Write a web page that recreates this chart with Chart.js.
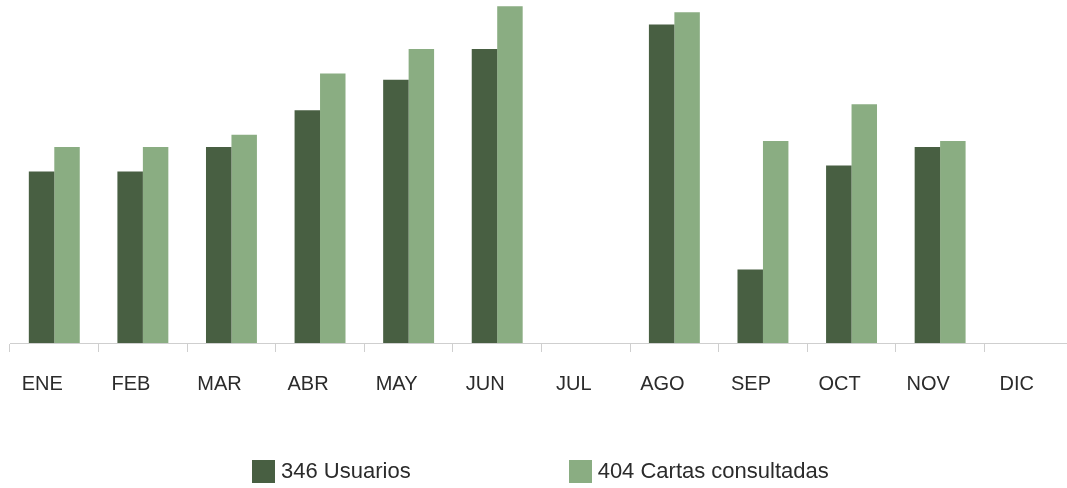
<!DOCTYPE html>
<html>
<head>
<meta charset="utf-8">
<script src="https://cdn.jsdelivr.net/npm/chart.js@4/dist/chart.umd.min.js"></script>
<style>
  html, body { margin: 0; padding: 0; background: #ffffff; overflow: hidden; }
  #wrap { position: relative; width: 1067px; height: 488px; overflow: hidden; background: #fff; }
  #c { position: absolute; left: 0; top: 0; }
  #legend { position: absolute; left: 252px; top: 458px; display: flex; gap: 158px; align-items: center;
            font-family: "Liberation Sans", Arial, sans-serif; font-size: 22px; color: #2b2b2b; }
  #legend .item { display: flex; align-items: center; white-space: nowrap; }
  #legend .box { width: 23px; height: 23px; margin-right: 6px; }
</style>
</head>
<body>
<div id="wrap">
  <canvas id="c" width="1074" height="488"></canvas>
  <div id="legend"></div>
</div>
<script>
const months = ['ENE','FEB','MAR','ABR','MAY','JUN','JUL','AGO','SEP','OCT','NOV','DIC'];
const usuarios = [28, 28, 32, 38, 43, 48, null, 52, 12, 29, 32, null];
const cartas   = [32, 32, 34, 44, 48, 55, null, 54, 33, 39, 33, null];
const seriesNames = ['346 Usuarios', '404 Cartas consultadas'];
const darkGreen = '#485f42';
const lightGreen = '#8aad82';

const htmlLegend = {
  id: 'htmlLegend',
  afterUpdate(chart) {
    const el = document.getElementById('legend');
    el.innerHTML = '';
    const items = Chart.defaults.plugins.legend.labels.generateLabels(chart);
    items.forEach(it => {
      const d = document.createElement('div');
      d.className = 'item';
      const b = document.createElement('span');
      b.className = 'box';
      b.style.background = it.fillStyle;
      const t = document.createElement('span');
      t.textContent = it.text;
      d.appendChild(b); d.appendChild(t);
      el.appendChild(d);
    });
  }
};

new Chart(document.getElementById('c'), {
  type: 'bar',
  data: {
    labels: months,
    datasets: [
      { label: seriesNames[0], data: usuarios, backgroundColor: darkGreen, borderWidth: 0 },
      { label: seriesNames[1], data: cartas, backgroundColor: lightGreen, borderWidth: 0 }
    ]
  },
  options: {
    responsive: false,
    animation: false,
    devicePixelRatio: 1,
    layout: { padding: { left: 10, right: 1, top: 0, bottom: 72 } },
    datasets: { bar: { categoryPercentage: 0.575, barPercentage: 1 } },
    plugins: {
      legend: { display: false },
      tooltip: { enabled: false }
    },
    scales: {
      x: {
        offset: true,
        grid: { display: true, offset: true, drawOnChartArea: false, drawTicks: true, tickLength: 9, color: '#cfcfcf', lineWidth: 1 },
        border: { display: true, color: '#cfcfcf', width: 1 },
        ticks: {
          color: '#2b2b2b',
          font: { family: '"Liberation Sans", Arial, sans-serif', size: 20 },
          padding: 20,
          labelOffset: -12,
          maxRotation: 0,
          autoSkip: false
        }
      },
      y: {
        display: false,
        min: 0,
        max: 56
      }
    }
  },
  plugins: [htmlLegend]
});
</script>
</body>
</html>
